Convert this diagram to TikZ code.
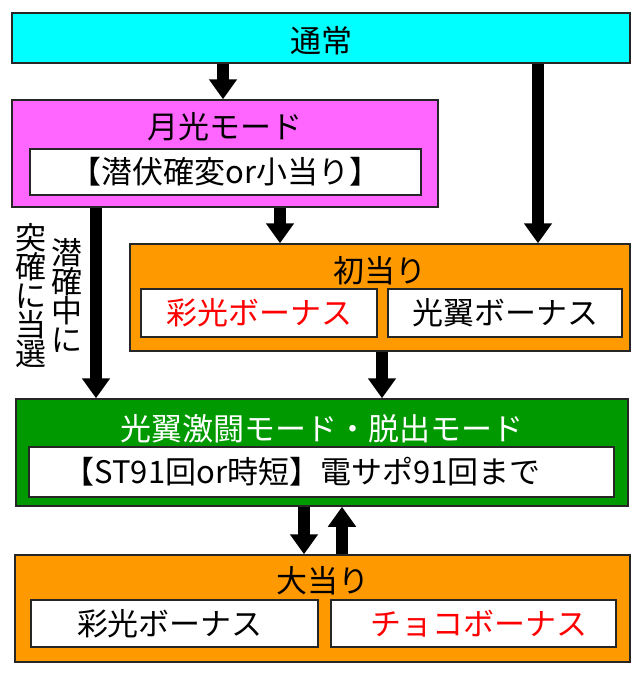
\documentclass[tikz,border=0pt]{standalone}
\usepackage{fontspec}
\setmainfont{Noto Sans CJK JP}
\usetikzlibrary{arrows.meta}
\definecolor{cCyan}{HTML}{00FFFF}
\definecolor{cMag}{HTML}{FF66FF}
\definecolor{cOrange}{HTML}{FF9900}
\definecolor{cGreen}{HTML}{009900}
\definecolor{cRed}{HTML}{FF0000}
\tikzset{
  box/.style={draw=black!85, line width=1.5pt, inner sep=0pt, rectangle},
  wbox/.style={box, fill=white},
  txt/.style={inner sep=0pt, font=\fontsize{31}{29}\selectfont},
  bigarrow/.style={line width=12pt, -{Triangle[width=27pt,length=20pt]}, black},
}
\begin{document}
\begin{tikzpicture}[x=1pt,y=-1pt]
\useasboundingbox (0,0) rectangle (640,673);
% boxes
\node[box, fill=cCyan, minimum width=618pt, minimum height=50pt] (tsujo) at (321,38) {};
\node[txt] (tsujoT) at (321,41) {通常};
\node[box, fill=cMag, minimum width=426pt, minimum height=107pt] (gekko) at (225,153.5) {};
\node[txt] (gekkoT) at (225,127) {月光モード};
\node[wbox, minimum width=391pt, minimum height=46pt] (gekkoI) at (225.5,172) {};
\node[txt] (gekkoIT) at (225.5,172) {【潜伏確変or小当り】};
\node[box, fill=cOrange, minimum width=500pt, minimum height=107pt] (sho) at (380,297.5) {};
\node[txt] (shoT) at (380,271) {初当り};
\node[wbox, minimum width=236pt, minimum height=48pt] (shoA) at (259,313) {};
\node[txt, text=cRed] (shoAT) at (259,313) {彩光ボーナス};
\node[wbox, minimum width=234pt, minimum height=48pt] (shoB) at (505,313) {};
\node[txt] (shoBT) at (505,313) {光翼ボーナス};
\node[box, fill=cGreen, minimum width=612pt, minimum height=107pt] (green) at (322,452.5) {};
\node[txt, text=white] (greenT) at (322,429) {光翼激闘モード・脱出モード};
\node[wbox, minimum width=585pt, minimum height=50pt] (greenI) at (321.5,472) {};
\node[txt] (greenIT) at (302,472) {【ST91回or時短】電サポ91回まで};
\node[box, fill=cOrange, minimum width=615pt, minimum height=107pt] (dai) at (322.5,608.5) {};
\node[txt] (daiT) at (322.5,581) {大当り};
\node[wbox, minimum width=287pt, minimum height=47pt] (daiA) at (174.5,623.5) {};
\node[txt] (daiAT) at (170,623.5) {彩光ボーナス};
\node[wbox, minimum width=285pt, minimum height=47pt] (daiB) at (473.5,623.5) {};
\node[txt, text=cRed] (daiBT) at (479,623.5) {チョコボーナス};
% vertical labels
\node[txt, align=center] (lab1) at (31,296) {突\\確\\に\\当\\選};
\node[txt, align=center] (lab2) at (67,296) {潜\\確\\中\\に};
% arrow x positions
\coordinate (x1) at (223,0);
\coordinate (x2) at (538,0);
\coordinate (x3) at (280,0);
\coordinate (x4) at (96,0);
\coordinate (x5) at (382,0);
\coordinate (x6) at (304,0);
\coordinate (x7) at (342,0);
\draw[bigarrow] (x1 |- tsujo.south) -- (x1 |- gekko.north);
\draw[bigarrow] (x2 |- tsujo.south) -- (x2 |- sho.north);
\draw[bigarrow] (x3 |- gekko.south) -- (x3 |- sho.north);
\draw[bigarrow] (x4 |- gekko.south) -- (x4 |- green.north);
\draw[bigarrow] (x5 |- sho.south) -- (x5 |- green.north);
\draw[bigarrow] (x6 |- green.south) -- (x6 |- dai.north);
\draw[bigarrow] (x7 |- dai.north) -- (x7 |- green.south);
\end{tikzpicture}
\end{document}
